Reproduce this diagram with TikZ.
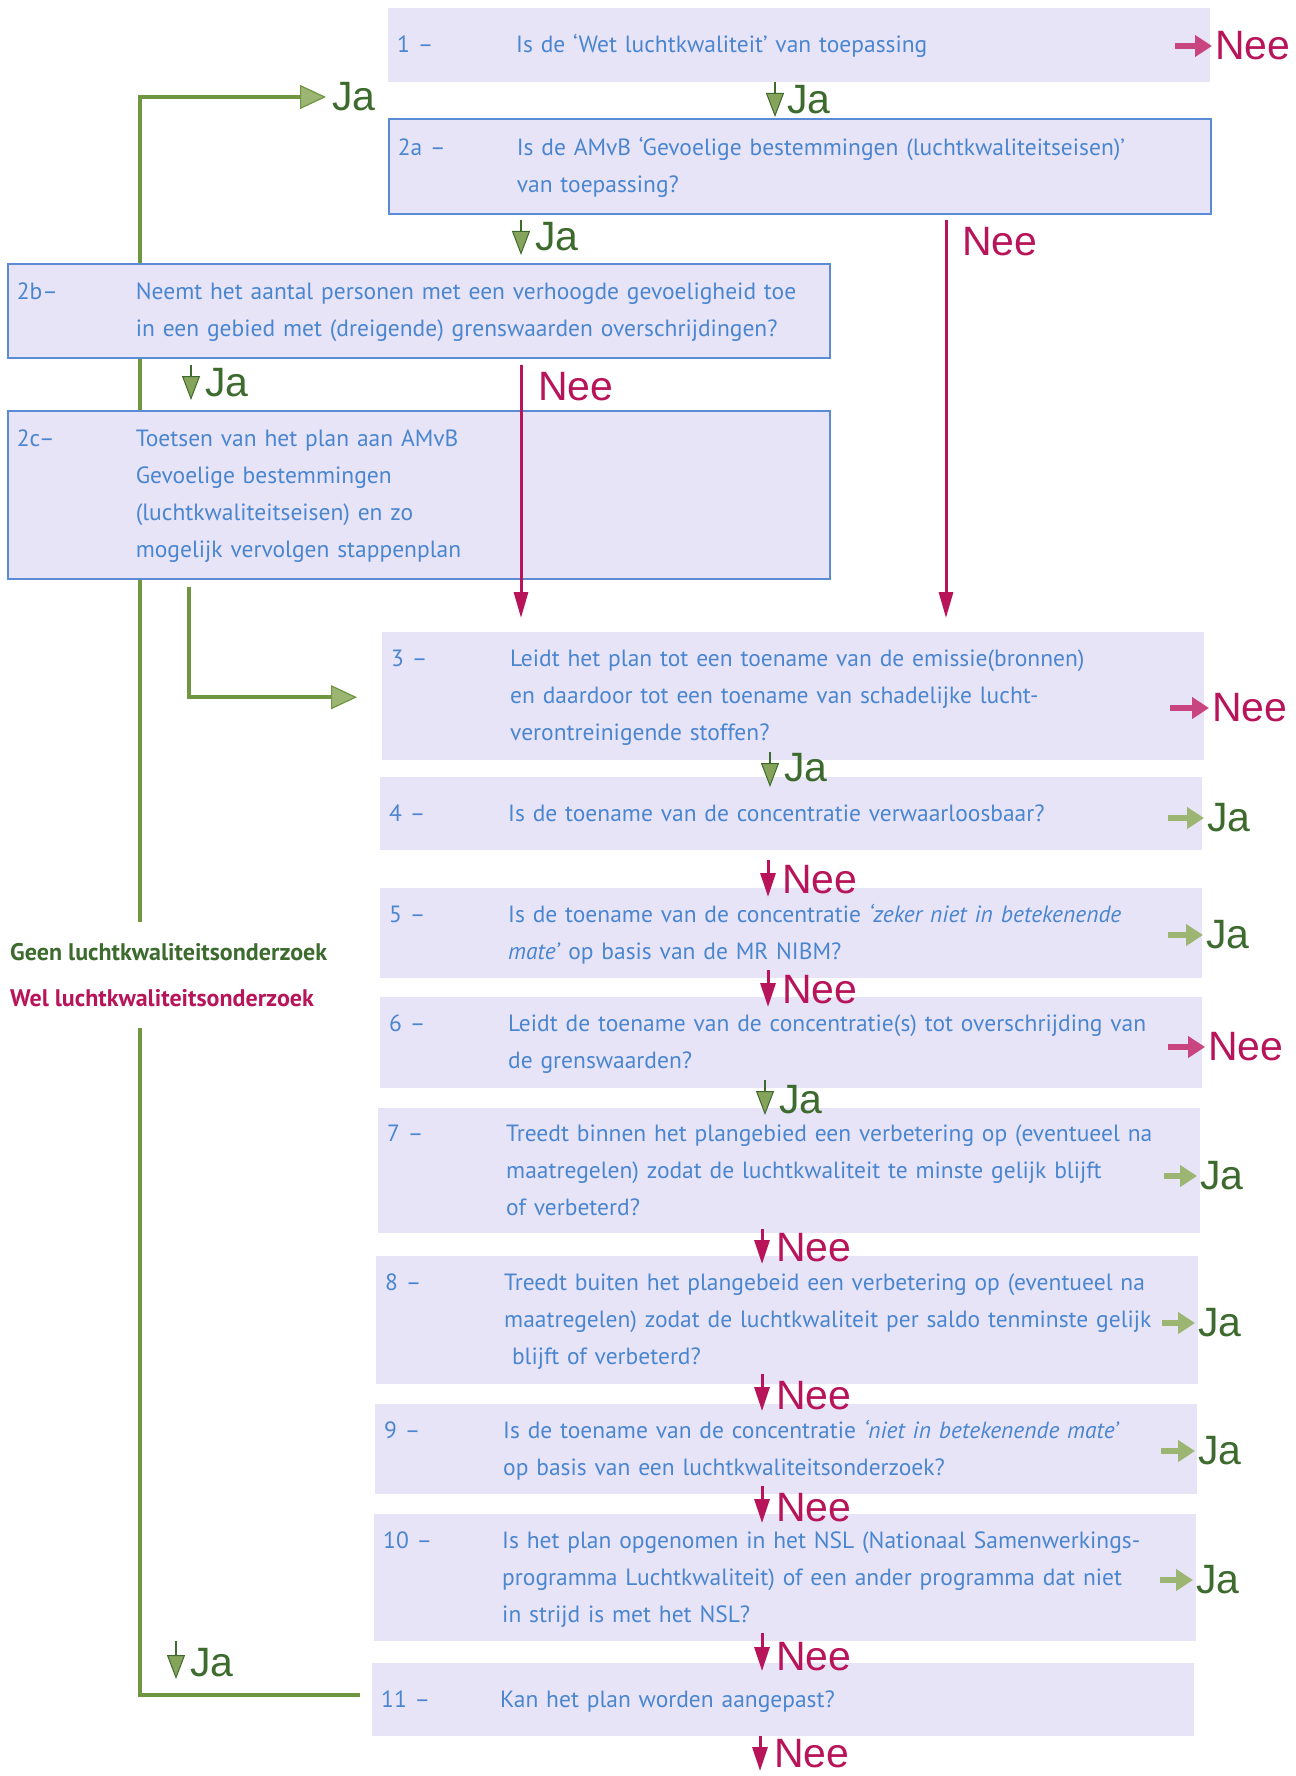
\documentclass[tikz,border=0pt]{standalone}
\usepackage{fontspec}
\setmainfont{PT Sans}
\newfontfamily\labelfont{Liberation Sans}
\usetikzlibrary{positioning,calc}
\usetikzlibrary{arrows.meta}
\usetikzlibrary{backgrounds}

\definecolor{boxfill}{HTML}{E8E4F8}
\definecolor{boxline}{HTML}{5B8BD4}
\definecolor{qtext}{HTML}{4A86D0}
\definecolor{jagreen}{HTML}{3D6B2E}
\definecolor{jaline}{HTML}{6F9640}
\definecolor{jamid}{HTML}{86A35B}
\definecolor{jalight}{HTML}{9DB573}
\definecolor{neered}{HTML}{B8145A}
\definecolor{neelight}{HTML}{C8457F}

\tikzset{
  qbox/.style={rectangle, fill=boxfill, anchor=north west, inner xsep=9pt, inner ysep=0pt,
    text width=804pt, align=left, text=qtext, font=\fontsize{23.5}{37}\selectfont},
  qframe/.style={qbox, draw=boxline, line width=1.6pt},
  jatxt/.style={anchor=west, inner sep=0pt, text=jagreen, font=\labelfont\fontsize{41}{41}\selectfont},
  neetxt/.style={jatxt, text=neered},
  jadown/.style={draw=jagreen, line width=2.5pt, -{Triangle[length=24pt,width=18pt,line width=1pt,fill=jamid]}},
  needown/.style={draw=neered, line width=3pt, -{Triangle[length=24pt,width=15pt]}},
  jaright/.style={draw=jalight, line width=6pt, -{Triangle[length=17pt,width=21pt]}},
  neeright/.style={draw=neelight, line width=6pt, -{Triangle[length=17pt,width=21pt]}},
  greenline/.style={draw=jaline, line width=4pt},
  greenarrow/.style={greenline, -{Triangle[length=26pt,width=24pt,line width=1.2pt,fill=jalight]}},
  neeline/.style={draw=neered, line width=3pt, -{Triangle[length=26pt,width=14pt]}}
}
\newcommand{\qnum}[1]{\makebox[119pt][l]{#1}}

\begin{document}
\begin{tikzpicture}[x=1pt, y=-1pt]
  \useasboundingbox (0, 0) rectangle (1295, 1776);

  % questions
  \node[qbox, minimum height=74pt] at (388, 8) (q_1) {\qnum{1 –}\begin{tabular}[t]{@{}l@{}}Is de ‘Wet luchtkwaliteit’ van toepassing\end{tabular}};
  \node[qframe, minimum height=95pt] at (388, 118) (q_2a) {\qnum{2a –}\begin{tabular}[t]{@{}l@{}}Is de AMvB ‘Gevoelige bestemmingen (luchtkwaliteitseisen)’\\van toepassing?\end{tabular}};
  \node[qframe, minimum height=94pt] at (7, 263) (q_2b) {\qnum{2b–}\begin{tabular}[t]{@{}l@{}}Neemt het aantal personen met een verhoogde gevoeligheid toe\\in een gebied met (dreigende) grenswaarden overschrijdingen?\end{tabular}};
  \node[qframe, minimum height=168pt] at (7, 410) (q_2c) {\qnum{2c–}\begin{tabular}[t]{@{}l@{}}Toetsen van het plan aan AMvB\\Gevoelige bestemmingen\\(luchtkwaliteitseisen) en zo\\mogelijk vervolgen stappenplan\end{tabular}};
  \node[qbox, minimum height=128pt] at (382, 632) (q_3) {\qnum{3 –}\begin{tabular}[t]{@{}l@{}}Leidt het plan tot een toename van de emissie(bronnen)\\en daardoor tot een toename van schadelijke lucht-\\verontreinigende stoffen?\end{tabular}};
  \node[qbox, minimum height=73pt] at (380, 777) (q_4) {\qnum{4 –}\begin{tabular}[t]{@{}l@{}}Is de toename van de concentratie verwaarloosbaar?\end{tabular}};
  \node[qbox, minimum height=90pt] at (380, 888) (q_5) {\qnum{5 –}\begin{tabular}[t]{@{}l@{}}Is de toename van de concentratie \textit{‘zeker niet in betekenende}\\\textit{mate’} op basis van de MR NIBM?\end{tabular}};
  \node[qbox, minimum height=91pt] at (380, 997) (q_6) {\qnum{6 –}\begin{tabular}[t]{@{}l@{}}Leidt de toename van de concentratie(s) tot overschrijding van\\de grenswaarden?\end{tabular}};
  \node[qbox, minimum height=125pt] at (378, 1108) (q_7) {\qnum{7 –}\begin{tabular}[t]{@{}l@{}}Treedt binnen het plangebied een verbetering op (eventueel na\\maatregelen) zodat de luchtkwaliteit te minste gelijk blijft\\of verbeterd?\end{tabular}};
  \node[qbox, minimum height=128pt] at (376, 1256) (q_8) {\qnum{8 –}\begin{tabular}[t]{@{}l@{}}Treedt buiten het plangebeid een verbetering op (eventueel na\\maatregelen) zodat de luchtkwaliteit per saldo tenminste gelijk\\\ blijft of verbeterd?\end{tabular}};
  \node[qbox, minimum height=90pt] at (375, 1404) (q_9) {\qnum{9 –}\begin{tabular}[t]{@{}l@{}}Is de toename van de concentratie \textit{‘niet in betekenende mate’}\\op basis van een luchtkwaliteitsonderzoek?\end{tabular}};
  \node[qbox, minimum height=127pt] at (374, 1514) (q_10) {\qnum{10 –}\begin{tabular}[t]{@{}l@{}}Is het plan opgenomen in het NSL (Nationaal Samenwerkings-\\programma Luchtkwaliteit) of een ander programma dat niet\\in strijd is met het NSL?\end{tabular}};
  \node[qbox, minimum height=73pt] at (372, 1663) (q_11) {\qnum{11 –}\begin{tabular}[t]{@{}l@{}}Kan het plan worden aangepast?\end{tabular}};

  % answers below the boxes
  \node[jatxt] at (787, 100) (ja_1) {Ja};
  \node[jatxt] at (535, 237) (ja_2a) {Ja};
  \node[jatxt] at (205, 383) (ja_2b) {Ja};
  \node[neetxt] at (962, 242) (nee_2a) {Nee};
  \node[neetxt] at (538, 387) (nee_2b) {Nee};
  \node[jatxt] at (784, 768) (ja_3) {Ja};
  \node[neetxt] at (782, 880) (nee_4) {Nee};
  \node[neetxt] at (782, 990) (nee_5) {Nee};
  \node[jatxt] at (779, 1100) (ja_6) {Ja};
  \node[neetxt] at (776, 1248) (nee_7) {Nee};
  \node[neetxt] at (776, 1396) (nee_8) {Nee};
  \node[neetxt] at (776, 1508) (nee_9) {Nee};
  \node[neetxt] at (776, 1657) (nee_10) {Nee};
  \node[neetxt] at (774, 1754) (nee_11) {Nee};
  \node[jatxt] at (190, 1663) (ja_11) {Ja};
  \node[jatxt] at (332, 97) (ja_top) {Ja};

  % answers right of the boxes
  \node[neetxt] at (1215, 46) (nr_1) {Nee};
  \node[neetxt] at (1212, 708) (nr_3) {Nee};
  \node[jatxt] at (1207, 818) (jr_4) {Ja};
  \node[jatxt] at (1206, 935) (jr_5) {Ja};
  \node[neetxt] at (1208, 1047) (nr_6) {Nee};
  \node[jatxt] at (1200, 1176) (jr_7) {Ja};
  \node[jatxt] at (1198, 1323) (jr_8) {Ja};
  \node[jatxt] at (1198, 1451) (jr_9) {Ja};
  \node[jatxt] at (1196, 1580) (jr_10) {Ja};

  \coordinate (stop) at (760, 1771);

  \node[anchor=west, fill=white, inner xsep=0pt, minimum height=106pt, align=left,
        font=\bfseries\fontsize{24}{46}\selectfont] at (10, 975) (legend)
        {\textcolor{jagreen}{Geen luchtkwaliteitsonderzoek}\\\textcolor{neered}{Wel luchtkwaliteitsonderzoek}};

  \begin{pgfonlayer}{background}
    \draw[greenarrow] ($(q_11.west)+(-12,-5)$) -| ($(ja_top.west)+(-192,0)$) -- ($(ja_top.west)+(-6,0)$);
  \end{pgfonlayer}

  \draw[greenarrow] ($(q_2c.south west)+(182,7)$) |- ($(q_3.west)+(-25,1)$);

  \draw[neeline] ($(q_2a.south -| nee_2a.west)+(-16,5)$) -- ($(q_3.north -| nee_2a.west)+(-16,-14)$);
  \draw[neeline] ($(q_2b.south -| nee_2b.west)+(-17,6)$) -- ($(q_3.north -| nee_2b.west)+(-17,-14)$);

  \draw[jadown] ($(q_1.south -| ja_1.west)+(-12,0)$) -- ($(q_2a.north -| ja_1.west)+(-12,-1)$);
  \draw[jadown] ($(q_2a.south -| ja_2a.west)+(-14,5)$) -- ($(q_2b.north -| ja_2a.west)+(-14,-8)$);
  \draw[jadown] ($(q_2b.south -| ja_2b.west)+(-14,6)$) -- ($(q_2c.north -| ja_2b.west)+(-14,-10)$);
  \draw[jadown] ($(q_3.south -| ja_3.west)+(-14,-8)$) -- ($(q_4.north -| ja_3.west)+(-14,10)$);
  \draw[needown] ($(q_4.south -| nee_4.west)+(-14,10)$) -- ($(q_5.north -| nee_4.west)+(-14,9)$);
  \draw[needown] ($(q_5.south -| nee_5.west)+(-14,-8)$) -- ($(q_6.north -| nee_5.west)+(-14,10)$);
  \draw[jadown] ($(q_6.south -| ja_6.west)+(-14,-8)$) -- ($(q_7.north -| ja_6.west)+(-14,7)$);
  \draw[needown] ($(q_7.south -| nee_7.west)+(-14,-4)$) -- ($(q_8.north -| nee_7.west)+(-14,8)$);
  \draw[needown] ($(q_8.south -| nee_8.west)+(-14,-10)$) -- ($(q_9.north -| nee_8.west)+(-14,7)$);
  \draw[needown] ($(q_9.south -| nee_9.west)+(-14,-8)$) -- ($(q_10.north -| nee_9.west)+(-14,9)$);
  \draw[needown] ($(q_10.south -| nee_10.west)+(-14,-8)$) -- ($(q_11.north -| nee_10.west)+(-14,8)$);
  \draw[needown] ($(q_11.south -| nee_11.west)+(-14,0)$) -- (stop);
  \draw[jadown] ($(ja_11.west)+(-14,-22)$) -- ($(ja_11.west)+(-14,16)$);

  \draw[neeright] ($(q_1.east |- nr_1.west)+(-35,0)$) -- ($(nr_1.west)+(-3,0)$);
  \draw[neeright] ($(q_3.east |- nr_3.west)+(-34,0)$) -- ($(nr_3.west)+(-3,0)$);
  \draw[jaright] ($(q_4.east |- jr_4.west)+(-34,0)$) -- ($(jr_4.west)+(-3,0)$);
  \draw[jaright] ($(q_5.east |- jr_5.west)+(-34,0)$) -- ($(jr_5.west)+(-3,0)$);
  \draw[neeright] ($(q_6.east |- nr_6.west)+(-34,0)$) -- ($(nr_6.west)+(-3,0)$);
  \draw[jaright] ($(q_7.east |- jr_7.west)+(-36,0)$) -- ($(jr_7.west)+(-3,0)$);
  \draw[jaright] ($(q_8.east |- jr_8.west)+(-36,0)$) -- ($(jr_8.west)+(-3,0)$);
  \draw[jaright] ($(q_9.east |- jr_9.west)+(-36,0)$) -- ($(jr_9.west)+(-3,0)$);
  \draw[jaright] ($(q_10.east |- jr_10.west)+(-36,0)$) -- ($(jr_10.west)+(-3,0)$);

\end{tikzpicture}
\end{document}
